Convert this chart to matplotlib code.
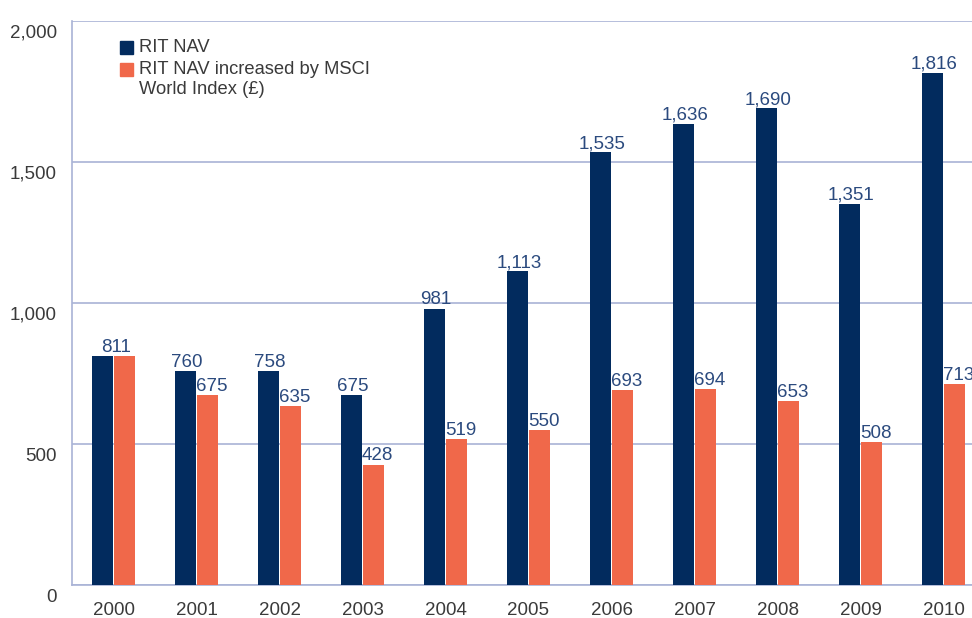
import matplotlib
matplotlib.use('Agg')
import matplotlib.pyplot as plt
import matplotlib.transforms as mtransforms
from matplotlib.patches import Rectangle
import numpy as np

years = ['2000', '2001', '2002', '2003', '2004', '2005',
         '2006', '2007', '2008', '2009', '2010']
rit_nav = [811, 760, 758, 675, 981, 1113, 1535, 1636, 1690, 1351, 1816]
msci_nav = [811, 675, 635, 428, 519, 550, 693, 694, 653, 508, 713]
legend_labels = ['RIT NAV', 'RIT NAV increased by MSCI\nWorld Index (£)']

navy = '#022b5e'
orange = '#f0684a'
grid_col = '#a9b3d6'
text_col = '#3a3a3a'
label_col = '#2b4a7e'

plt.rcParams['font.family'] = ['Liberation Sans', 'DejaVu Sans']

fig = plt.figure(figsize=(9.72, 6.18), dpi=100)
ax = fig.add_axes([72 / 972, (618 - 585.3) / 618, 1 - 72 / 972, 564.3 / 618])

x = np.arange(len(years))
w = 21 / 83
gap = 0.5 / 83
ax.bar(x - w / 2 - gap, rit_nav, width=w, color=navy, zorder=3)
ax.bar(x + w / 2 + gap, msci_nav, width=w, color=orange, zorder=3)

# value labels
for i in range(len(years)):
    if rit_nav[i] == msci_nav[i]:
        ax.annotate(f'{rit_nav[i]:,}', (x[i], rit_nav[i]), xytext=(2, 3),
                    textcoords='offset points', ha='center', va='baseline',
                    fontsize=13.5, color=label_col)
        continue
    ax.annotate(f'{rit_nav[i]:,}', (x[i] - w / 2 - gap, rit_nav[i]), xytext=(1, 3),
                textcoords='offset points', ha='center', va='baseline',
                fontsize=13.5, color=label_col)
    ax.annotate(f'{msci_nav[i]:,}', (x[i] + w / 2 + gap, msci_nav[i]), xytext=(3, 3),
                textcoords='offset points', ha='center', va='baseline',
                fontsize=13.5, color=label_col, annotation_clip=False)

ax.set_xlim(-0.5, (972 - 113.5) / 83)
ax.set_ylim(0, 2000)
ax.set_yticks([0, 500, 1000, 1500, 2000])
ax.set_yticklabels(['0', '500', '1,000', '1,500', '2,000'])
ax.set_xticks(x)
ax.set_xticklabels(years)

ax.grid(axis='y', color=grid_col, linewidth=1.2, zorder=0)
ax.grid(axis='x', visible=False)
for side in ['top', 'right']:
    ax.spines[side].set_visible(False)
for side in ['left', 'bottom']:
    ax.spines[side].set_color(grid_col)
    ax.spines[side].set_linewidth(1.2)

ax.tick_params(axis='both', length=0, labelsize=13.5, labelcolor=text_col)
ax.tick_params(axis='y', pad=11)
ax.tick_params(axis='x', pad=12)

offset = mtransforms.ScaledTranslation(0, -0.10, fig.dpi_scale_trans)
for lab in ax.get_yticklabels():
    lab.set_transform(lab.get_transform() + offset)

# legend drawn by hand so the square sits on the first line
sq_w = 13 / 972
sq_h = 13 / 618
fig.patches.append(Rectangle((120 / 972, 1 - 54 / 618), sq_w, sq_h,
                             transform=fig.transFigure, color=navy, figure=fig))
fig.patches.append(Rectangle((120 / 972, 1 - 76 / 618), sq_w, sq_h,
                             transform=fig.transFigure, color=orange, figure=fig))
fig.text(139 / 972, 1 - 47.5 / 618, legend_labels[0], fontsize=13.2,
         color=text_col, va='center', ha='left')
fig.text(139 / 972, 1 - 69.5 / 618, legend_labels[1], fontsize=13.2,
         color=text_col, va='top', ha='left', linespacing=1.3,
         transform=fig.transFigure + mtransforms.ScaledTranslation(0, 0.09, fig.dpi_scale_trans))

fig.savefig('out.png', dpi=100)
